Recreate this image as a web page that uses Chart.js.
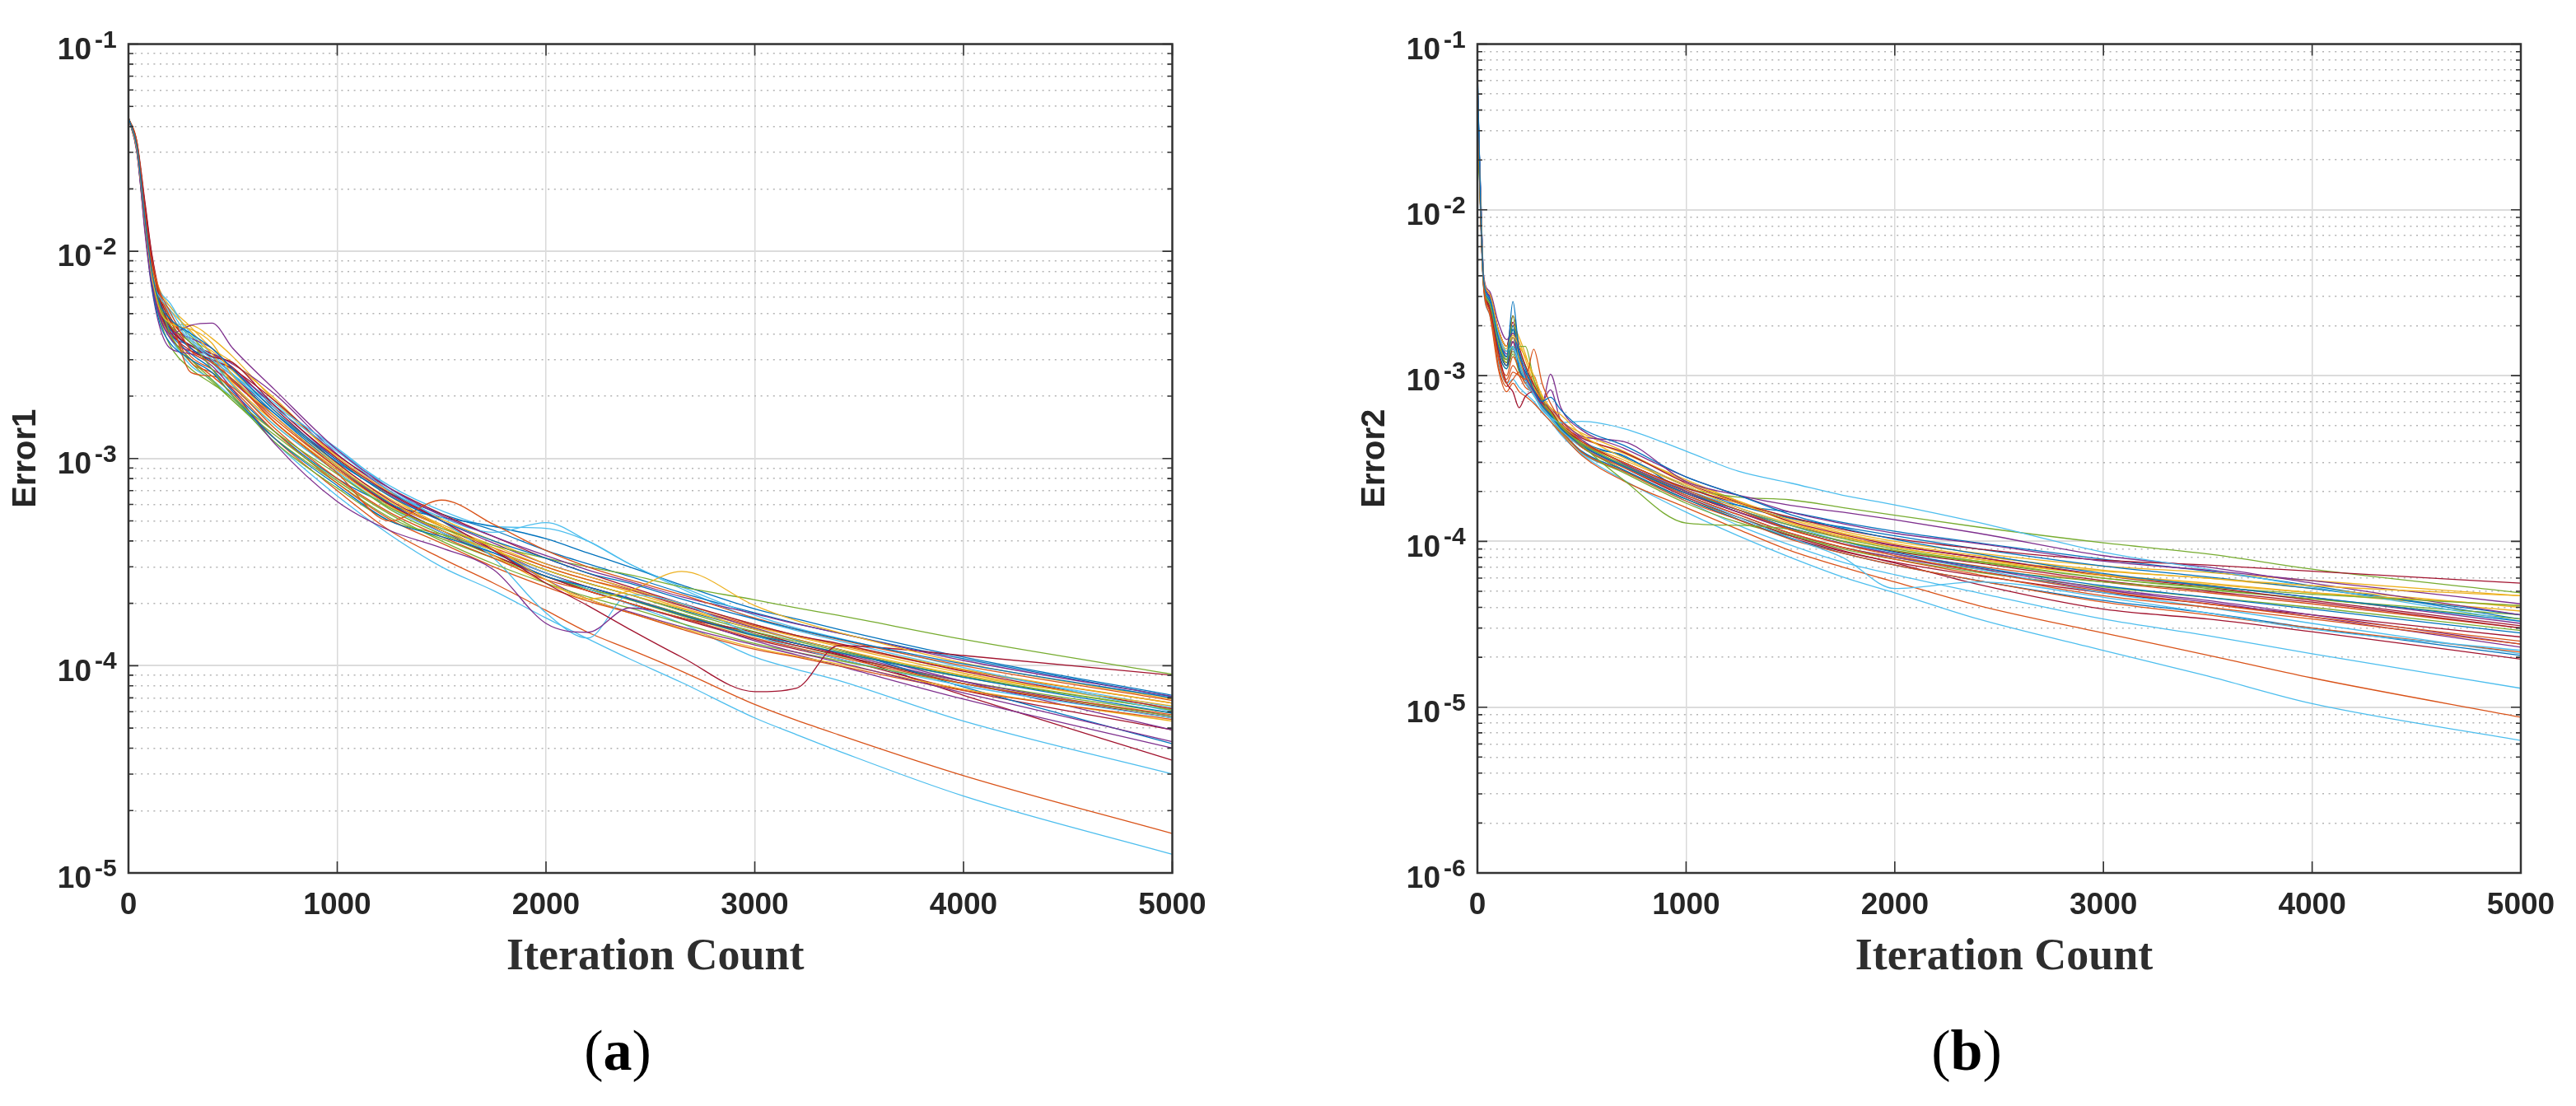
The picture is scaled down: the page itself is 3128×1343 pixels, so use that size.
<!DOCTYPE html>
<html>
<head>
<meta charset="utf-8">
<script src="https://cdn.jsdelivr.net/npm/chart.js@4"></script>
<style>
html,body{margin:0;padding:0;background:#fff;width:3128px;height:1343px;overflow:hidden}
canvas{position:absolute;top:0}
#c1{left:0}
#c2{left:1638px}
.cap{position:absolute;top:1236px;font:70px "Liberation Serif",serif;color:#000;transform:translateX(-50%);line-height:80px}
.cap b{font-weight:700}
</style>
</head>
<body>
<canvas id="c1" width="1560" height="1343"></canvas>
<canvas id="c2" width="1490" height="1343"></canvas>
<div class="cap" style="left:750px">(<b>a</b>)</div>
<div class="cap" style="left:2388px">(<b>b</b>)</div>
<script>
const matlabColors = ['#0072BD','#D95319','#EDB120','#7E2F8E','#77AC30','#4DBEEE','#A2142F'];
const xTickValues = [0,1000,2000,3000,4000,5000];
const yExponentsA = [-5,-4,-3,-2,-1];
const yExponentsB = [-6,-5,-4,-3,-2,-1];
const xTitle = 'Iteration Count';

const iterationsA = [0,40,80,110,150,200,300,400,500,700,1000,1250,1500,1750,2000,2200,2400,2650,3000,3200,3400,4000,5000];
const unitA = 1e-5;
const error1 = [
[4400,3200,1400,820,560,470,400,340,270,170,98,66,50,40,33,28,25,21,16.8,15,13.5,10.2,7],
[4400,3300,1500,880,640,510,330,290,240,150,85,50,63,48,36,30,26,22,17,15,13.4,10,6.8],
[4400,3100,1350,780,520,450,420,360,250,160,92,62,47,37,26,21,23,28.5,19.5,16.5,14.5,10.3,6.9],
[4400,3000,1250,720,480,400,440,450,340,215,110,72,53,42,34,29,25.5,21.5,17.8,15.9,14.4,10.6,7.1],
[4400,3250,1450,810,540,440,360,270,200,135,84,58,46,38,33,30,27.5,24,20.8,19,17.5,13.4,9.1],
[4400,3150,1300,750,600,520,370,300,250,175,108,70,52,44,49,40,31,24,17.5,15.2,13.6,9.8,6],
[4400,3350,1600,930,590,430,350,310,290,180,100,68,50,36,25,19.5,15,11,7.5,7.8,12.5,11.2,9],
[4400,3100,1300,700,450,360,300,260,200,125,74,50,42,35,27,24,21,17.6,14,12.8,11.6,8.8,5.9],
[4400,3400,1550,950,620,480,260,250,220,140,80,55,42,33,26,23,20,17,13.6,12.2,11,8.2,5.8],
[4400,3200,1450,850,600,520,410,320,230,150,88,59,45,36,29,25,22,18.8,15,13.4,12,9,6.4],
[4400,3050,1200,680,430,340,320,280,215,118,62,45,37,29,16,14.5,19,17,13.2,11.6,10.4,7.4,4.3],
[4400,3300,1500,900,580,400,300,240,190,130,78,54,40,31,25,21.5,19,16,12.8,11.6,10.6,8.2,5.7],
[4400,3150,1350,800,640,560,380,310,255,180,112,72,50,33,18,13.6,22,20,14,12.2,10.8,8,5.6],
[4400,3250,1500,860,520,410,330,300,270,190,104,72,54,42,33,28,24,20,15.8,14,12.8,9.4,6.2],
[4400,3150,1350,760,520,420,340,290,240,165,96,68,54,45,36,31,27,22.5,18,16,14.4,10.8,7.1],
[4400,3200,1400,830,570,440,290,260,215,135,76,51,39,30,24,20.5,18,15,12,11,10,7.6,5.5],
[4400,3350,1550,900,650,540,430,340,290,195,100,66,47,34,25,21,18,15.2,12.2,11.1,10.2,7.7,5.4],
[4400,3100,1300,740,490,380,330,320,285,205,105,70,50,36,26,21,18.2,15.4,12.6,11.3,10,6.9,4],
[4400,3050,1250,700,470,350,270,230,195,120,72,50,43,36,29,25,22,18.4,14.6,13.1,11.8,8.9,6.1],
[4400,3200,1400,840,610,500,360,290,225,145,86,58,44,35,28,23.5,19.8,16,11,9.6,8.5,5.4,3],
[4400,3300,1650,980,610,460,340,290,240,150,88,60,45,34,27,23,20,17,14.5,12.8,11.4,7.2,3.5],
[4400,3250,1450,820,530,420,350,310,255,165,92,61,45,36,29,25,22,18.6,15,13.3,12,7.9,4.2],
[4400,3150,1300,740,500,390,300,250,205,125,70,45,33,25,18.5,14.5,12,9.4,6.5,5.45,4.65,2.95,1.55],
[4400,3250,1450,870,590,450,440,380,310,190,102,69,51,40,31,27,23.6,19.8,15.8,14,12.7,9.6,6.6],
[4400,3200,1400,800,540,430,380,340,270,180,98,67,50,39,31,27,23.5,19.6,15.2,13.4,12,8.4,4.9],
[4400,3350,1600,930,600,470,390,300,225,145,86,57,43,34,27,23.5,21,17.8,14.2,12.8,11.6,8.8,6.1],
[4400,3100,1250,700,470,380,280,240,195,120,66,43,30,23,17,13.5,10.8,8.3,5.6,4.65,3.88,2.35,1.23],
[4400,3400,1700,1000,630,480,360,320,275,175,95,63,47,36,28,24,21,17.6,14,12.5,11.3,8.2,5.6],
[4400,3100,1300,770,510,400,320,270,210,135,80,60,52,47,41,35,30,24.5,18.8,16.8,15,11,7.2],
[4400,3300,1500,860,560,430,310,270,235,155,90,61,47,37,30,26,23.2,19.4,15.6,14,12.6,9.5,6.6],
[4400,3250,1400,810,550,460,370,330,265,170,94,64,48,38,30,26,22.8,19,15.4,13.8,12.4,9.2,6.2],
[4400,3150,1350,780,510,400,350,310,235,160,90,60,44,35,28,24,21.2,17.8,14.2,12.8,11.5,8.4,5.7],
[4400,3200,1400,790,530,390,290,235,190,125,76,52,41,33,27,23.5,20.8,17.4,13.9,12.5,11.2,8.4,5.9],
[4400,3250,1450,850,620,540,400,320,265,185,110,74,56,47,46,40,31,23.5,16.8,14.8,13.2,9.6,6.3],
[4400,3300,1550,900,570,440,340,295,250,160,90,60,44,34,27,23,20,16.8,13.4,12,10.8,7.6,4.9]
];

const iterationsB = [0,15,30,60,100,140,170,200,230,270,310,350,400,500,700,1000,1250,1500,1750,2000,2400,3000,3500,4000,5000];
const unitB = 1e-6;
const error2 = [
[70000,11000,3800,2900,1700,1300,2800,1400,1100,820,700,740,620,480,380,245,190,145,120,103,84,64,54,46,33],
[60000,9500,3600,2400,1300,900,1050,1000,950,1440,900,680,540,400,300,205,155,118,96,82,66,50,42,35,25],
[40000,12000,3900,3100,1900,1500,1750,1500,1300,1000,760,640,580,440,320,220,170,135,112,97,82,67,60,54,47],
[45000,13000,4000,3200,2100,1650,1800,1400,1000,800,680,1020,640,470,365,245,190,150,128,112,97,76,67,58,42],
[35000,10000,3500,2700,1600,1250,2300,1500,1500,950,720,600,500,380,235,129,125,118,100,88,75,60,53,48,41],
[50000,14000,3800,2900,1800,1400,1500,1200,950,780,620,560,520,530,480,350,265,225,190,166,130,86,68,53,33],
[40000,11000,3600,2500,1400,900,800,640,750,800,690,620,500,400,300,210,170,140,118,104,90,77,72,66,56],
[55000,12000,3700,2800,1500,1150,1900,1100,950,800,660,580,480,380,285,195,155,120,100,86,70,54,46,39,28],
[50000,10000,3400,2500,1300,1000,1300,1100,900,1000,680,600,500,370,280,190,145,112,92,78,63,47,40,34,24],
[45000,11500,3700,2800,1600,1250,1700,1250,1000,850,700,610,510,400,310,215,160,128,106,92,78,62,55,49,41],
[60000,12000,3800,3000,1700,1300,1600,1200,1000,850,700,640,540,430,400,230,190,165,150,135,112,82,70,56,36],
[40000,10500,3600,2700,1500,1200,1500,1250,1000,820,680,590,490,390,300,210,185,178,160,144,122,98,84,68,49],
[45000,12000,3700,2700,1600,1300,1450,1150,900,760,640,560,470,370,280,190,140,105,80,52,57,46,37,29.5,22],
[50000,13000,3900,3100,1900,1500,2300,1500,1150,880,720,600,510,420,345,225,172,132,110,95,80,62,53,44,31],
[65000,11000,3700,2700,1500,1250,2000,1300,1050,830,680,600,505,400,325,215,165,138,122,108,90,71,61,52,36],
[60000,10000,3500,2500,1150,860,950,1050,900,780,640,560,470,345,265,175,135,103,85,72,58,43,36,30,21.5],
[40000,11000,3600,2800,1700,1400,1800,1600,1250,900,720,620,530,450,350,230,175,138,115,100,85,71,65,58,47],
[35000,12500,3700,2900,1800,1350,1700,1250,1050,850,700,820,530,410,295,200,150,118,97,84,69,52,44,36,24],
[42000,11000,3700,2800,1650,1300,1900,1400,1150,850,700,600,500,390,290,200,155,125,104,90,76,60,52,45,36],
[55000,12000,3800,2800,1700,1300,1500,1100,900,770,630,550,470,380,290,205,160,125,100,84,68,49,40,32,21],
[48000,11500,3600,2600,1500,1150,1450,1100,950,810,680,590,490,380,280,185,140,108,88,74,55,39,34,28.5,19.5],
[70000,10500,3500,2600,1400,1100,1500,1100,950,780,640,570,470,350,270,180,136,104,85,72,58,44,37,30,20.5],
[60000,9500,3400,2300,1100,800,900,800,750,680,600,530,450,330,232,160,118,88,70,57,41,28,20.6,15,8.7],
[38000,11000,3700,2900,1750,1450,2000,1700,1350,950,740,640,540,430,340,235,175,130,108,92,78,66,60,52,40],
[44000,12000,3800,3000,1800,1400,1600,1200,1000,820,680,600,500,385,280,190,145,112,92,80,66,51,43,35,23],
[36000,10000,3500,2600,1500,1150,1400,1150,950,800,660,570,480,370,270,180,140,110,92,80,68,57,51,45,34],
[50000,9000,3300,2300,1200,900,950,850,780,700,600,530,440,335,235,150,108,80,61,49,34,22,15.4,10.5,6.3],
[42000,12000,3800,3000,1900,1500,2100,1300,1000,830,690,590,490,385,285,195,150,120,100,87,74,58,50,43,30],
[58000,11500,3700,2700,1550,1250,1700,1200,980,800,680,600,500,385,330,200,165,150,130,115,98,78,66,54,34],
[52000,10000,3500,2500,1250,950,1150,1000,850,790,660,580,490,385,290,195,150,117,97,84,71,57,49,42,30],
[40000,11000,3600,2700,1550,1200,1500,1200,1000,840,680,580,480,380,285,195,150,120,101,88,76,63,56,49,38],
[46000,11500,3700,2800,1650,1250,1500,1150,950,800,660,580,480,375,290,200,155,125,106,94,80,63,54,46,32],
[38000,10500,3500,2600,1400,1100,1350,1050,900,760,630,550,460,345,260,170,130,108,90,78,65,53,46,40,29],
[52000,12500,3800,2800,1700,1350,1500,1100,950,790,650,560,470,340,265,175,125,95,75,63,49,34,27,21,13],
[47000,11000,3600,2600,1500,1200,1600,1150,950,780,640,560,470,370,270,180,135,105,87,75,62,49,42,36,26.5]
];

const textColor = '#262626';
const axisColor = '#333333';
const tickFont = {family:'"Liberation Sans", Arial, sans-serif', size:37, weight:'bold'};

function isDecade(v){ const e = Math.log10(v); return Math.abs(e-Math.round(e))<1e-6; }

const framePlugin = {
  id:'frame',
  afterDatasetsDraw(chart){
    const {ctx, chartArea:a, scales:{x,y}} = chart;
    ctx.save();
    ctx.strokeStyle = axisColor;
    ctx.lineWidth = 1.6;
    ctx.beginPath();
    xTickValues.forEach(v=>{
      const p = x.getPixelForValue(v);
      ctx.moveTo(p,a.bottom); ctx.lineTo(p,a.bottom-14);
      ctx.moveTo(p,a.top); ctx.lineTo(p,a.top+14);
    });
    y.ticks.forEach(t=>{
      const p = y.getPixelForValue(t.value), len = isDecade(t.value)?12:6;
      ctx.moveTo(a.left,p); ctx.lineTo(a.left+len,p);
      ctx.moveTo(a.right,p); ctx.lineTo(a.right-len,p);
    });
    ctx.stroke();
    ctx.lineWidth = 2.5;
    ctx.strokeRect(a.left,a.top,a.right-a.left,a.bottom-a.top);
    // superscript part of the decade labels
    ctx.fillStyle = textColor;
    ctx.font = 'bold 30px "Liberation Sans", Arial, sans-serif';
    ctx.textAlign = 'left';
    ctx.textBaseline = 'alphabetic';
    chart.options.plugins.frame.exponents.forEach(e=>{
      ctx.fillText(String(e), a.left-41, y.getPixelForValue(Math.pow(10,e))+4);
    });
    ctx.restore();
  }
};

function makeChart(id, iterations, rows, unit, exponents, yTitle, rightPad, titleShift){
  const datasets = rows.map((row,i)=>({
    data: row.map((v,k)=>({x:iterations[k], y:v*unit})),
    borderColor: matlabColors[i%matlabColors.length],
    borderWidth: 1.3,
    pointRadius: 0,
    fill: false,
    cubicInterpolationMode: 'monotone'
  }));
  const low = Math.min(...exponents), high = Math.max(...exponents);
  return new Chart(document.getElementById(id), {
    type:'line',
    data:{datasets},
    plugins:[framePlugin],
    options:{
      responsive:false, animation:false, devicePixelRatio:1,
      layout:{padding:{left:0,top:53.5,right:rightPad,bottom:148}},
      plugins:{legend:{display:false},tooltip:{enabled:false},frame:{exponents}},
      scales:{
        x:{
          type:'linear', min:0, max:5000,
          afterBuildTicks(s){ s.ticks = xTickValues.map(value=>({value})); },
          afterFit(s){
            s.height = 135; s.paddingLeft = 0; s.paddingRight = 0;
            if(!s._shifted){
              const orig = s.drawTitle.bind(s);
              s.drawTitle = function(){ const c=s.ctx; c.save(); c.translate(titleShift,0); orig(); c.restore(); };
              s._shifted = true;
            }
          },
          ticks:{color:textColor,font:tickFont,padding:18,maxRotation:0,autoSkip:false,
            callback(v){ return String(v); }},
          grid:{color:'#d9d9d9',lineWidth:1.5,drawTicks:false},
          border:{display:false},
          title:{display:true,text:xTitle,color:'#2e2e2e',
            font:{family:'"Liberation Serif", "Times New Roman", serif',size:54,weight:'bold'},padding:{top:0,bottom:0}}
        },
        y:{
          type:'logarithmic', min:Math.pow(10,low), max:Math.pow(10,high),
          afterBuildTicks(s){
            const list=[];
            for(let e=low;e<high;e++){ for(let m=1;m<10;m++){ list.push({value:m*Math.pow(10,e)}); } }
            list.push({value:Math.pow(10,high)});
            s.ticks=list;
          },
          afterFit(s){ s.width = 156; s.paddingTop = 0; s.paddingBottom = 0; },
          ticks:{color:textColor,font:tickFont,padding:45,labelOffset:8,autoSkip:false,
            callback(v){ return isDecade(v)?'10':''; }},
          grid:{drawTicks:false,
            color(c){ return c.tick && isDecade(c.tick.value)?'#dcdcdc':'#b4b4b4'; },
            lineWidth(c){ return c.tick && isDecade(c.tick.value)?2:1.5; }},
          border:{display:false,
            dash(c){ return c.tick && isDecade(c.tick.value)?[]:[2,5.6]; }},
          title:{display:true,text:yTitle,color:textColor,
            font:{family:'"Liberation Sans", Arial, sans-serif',size:40,weight:'bold'},padding:{top:8,bottom:0}}
        }
      }
    }
  });
}

makeChart('c1', iterationsA, error1, unitA, yExponentsA, 'Error1', 136.5, 6);
makeChart('c2', iterationsB, error2, unitB, yExponentsB, 'Error2', 67, 6);
</script>
</body>
</html>
